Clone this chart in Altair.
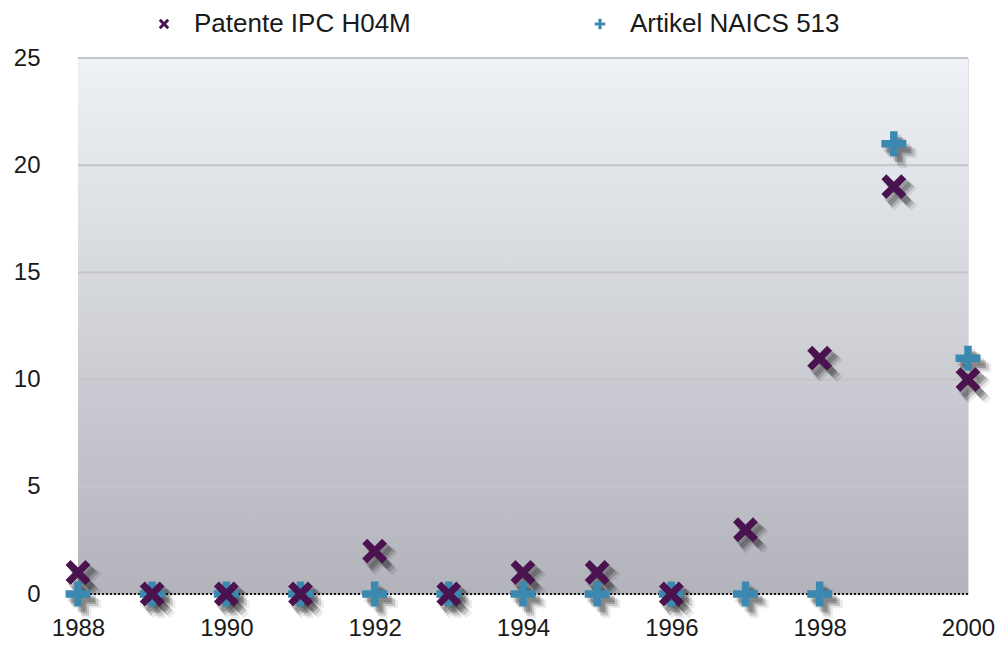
import altair as alt
import pandas as pd

years = [1988, 1989, 1990, 1991, 1992, 1993, 1994, 1995, 1996, 1997, 1998, 1999, 2000]
patente = [1, 0, 0, 0, 2, 0, 1, 1, 0, 3, 11, 19, 10]
artikel = [0, 0, 0, 0, 0, 0, 0, 0, 0, 0, 0, 21, 11]
series_names = ["Patente IPC H04M", "Artikel NAICS 513"]
x_ticks = [1988, 1990, 1992, 1994, 1996, 1998, 2000]
y_ticks = [0, 5, 10, 15, 20, 25]
grid_vals = [5, 10, 15, 20, 25]

# draw order: plus series first, then X series on top
rows = []
for yr, v in zip(years, artikel):
    rows.append({"year": yr, "value": v, "series": series_names[1]})
for yr, v in zip(years, patente):
    rows.append({"year": yr, "value": v, "series": series_names[0]})
df = pd.DataFrame(rows)

X_PATH = "M-1,-0.6L-0.6,-1L0,-0.4L0.6,-1L1,-0.6L0.4,0L1,0.6L0.6,1L0,0.4L-0.6,1L-1,0.6L-0.4,0Z"
PLUS_PATH = "M-0.3,-1H0.3V-0.3H1V0.3H0.3V1H-0.3V0.3H-1V-0.3H-0.3Z"
PURPLE = "#4a134f"
TEAL = "#3b88b0"
FONT = "Liberation Sans"

xscale = alt.Scale(domain=[1988, 2000], nice=False, zero=False)
yscale = alt.Scale(domain=[0, 25], nice=False)
xaxis = alt.Axis(values=x_ticks, format="d", grid=False, domain=False, ticks=False,
                 tickSize=0, labelPadding=22, labelFontSize=24, labelColor="#1a1a1a",
                 labelFont=FONT, labelFlush=False, title=None)
yaxis = alt.Axis(values=y_ticks, grid=False, domain=False, ticks=False, tickSize=0,
                 labelPadding=38, labelFontSize=24, labelColor="#1a1a1a",
                 labelFont=FONT, labelFlush=False, title=None)

bg = alt.Chart(pd.DataFrame({"a": [0]})).mark_rect(
    color=alt.LinearGradient(
        gradient="linear",
        stops=[alt.GradientStop(offset=0, color="#eef2f6"),
               alt.GradientStop(offset=1, color="#b3b3bb")],
        x1=0, x2=0, y1=0, y2=1,
    )
).encode(x=alt.value(0), x2=alt.value("width"), y=alt.value(0), y2=alt.value("height"))

grid = alt.Chart(pd.DataFrame({"g": grid_vals})).mark_rule(
    color="#c3c3c8", strokeWidth=2
).encode(y=alt.Y("g:Q", scale=yscale, axis=yaxis))

zero = alt.Chart(pd.DataFrame({"z": [0]})).mark_rule(
    color="#111111", strokeDash=[2, 2], strokeWidth=2
).encode(y=alt.Y("z:Q", scale=yscale, axis=yaxis))

shadows = []
for path, name in [(PLUS_PATH, series_names[1]), (X_PATH, series_names[0])]:
    for dx, dy, op, sz in [(3, 4, 0.12, 700), (5, 6, 0.22, 650), (7, 8, 0.16, 720), (9, 10, 0.08, 800)]:
        shadows.append(
            alt.Chart(df).transform_filter(alt.datum.series == name).mark_point(
                shape=path, filled=True, color="#000000", opacity=op, size=sz,
                xOffset=dx, yOffset=dy, strokeWidth=0
            ).encode(x=alt.X("year:Q", scale=xscale, axis=xaxis),
                     y=alt.Y("value:Q", scale=yscale, axis=yaxis))
        )

leg = alt.Legend(title=None, orient="none", direction="horizontal",
                 legendX=73, legendY=-47, symbolSize=110,
                 labelFontSize=26, labelFont=FONT, labelColor="#1a1a1a", labelLimit=0,
                 labelOffset=17, columnPadding=176, padding=0, symbolStrokeWidth=0)

points = alt.Chart(df).mark_point(filled=True, opacity=1, size=620, strokeWidth=0).encode(
    x=alt.X("year:Q", scale=xscale, axis=xaxis),
    y=alt.Y("value:Q", scale=yscale, axis=yaxis),
    shape=alt.Shape("series:N", scale=alt.Scale(domain=series_names, range=[X_PATH, PLUS_PATH]),
                    legend=leg),
    color=alt.Color("series:N", scale=alt.Scale(domain=series_names, range=[PURPLE, TEAL]),
                    legend=leg),
)

chart = alt.layer(bg, grid, zero, *shadows, points).properties(
    width=987, height=632,
    autosize=alt.AutoSizeParams(type="fit", contains="padding"),
    padding={"left": 5, "top": 38, "right": 0, "bottom": 0},
).configure_view(stroke=None).configure(font=FONT)

chart.save("out.html", embed_options={"renderer": "svg", "actions": False})
